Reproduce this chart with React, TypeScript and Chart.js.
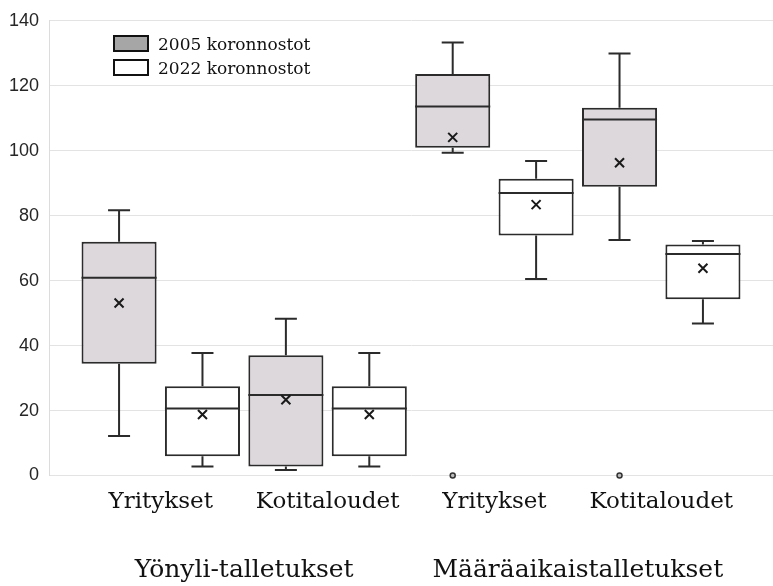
import { useEffect, useRef } from 'react';
import { Chart, registerables } from 'chart.js';

Chart.register(...registerables);

// ---- data ----
const groupLabels = ['Yönyli-talletukset', 'Määräaikaistalletukset'];
const groupPositions = [1.5, 3.5];
const categoryLabels = ['Yritykset', 'Kotitaloudet', 'Yritykset', 'Kotitaloudet'];
const categoryPositions = [1, 2, 3, 4];
const seriesNames = ['2005 koronnostot', '2022 koronnostot'];
const yTickValues = [0, 20, 40, 60, 80, 100, 120, 140];

// 2005 koronnostot
const min2005 = [12.2, 1.7, 99.4, 72.5];
const q1_2005 = [34.4, 2.8, 100.9, 88.9];
const median2005 = [60.9, 24.8, 113.6, 109.6];
const q3_2005 = [72.0, 37.0, 123.6, 113.2];
const max2005 = [81.7, 48.3, 133.3, 129.9];
const mean2005 = [53.1, 23.3, 104.1, 96.3];
const outliers2005: number[][] = [[], [], [0], [0]];

// 2022 koronnostot
const min2022 = [2.8, 2.8, 60.5, 46.8];
const q1_2022 = [5.9, 5.9, 73.9, 54.3];
const median2022 = [20.6, 20.6, 87.0, 68.2];
const q3_2022 = [27.5, 27.5, 91.4, 71.1];
const max2022 = [37.7, 37.7, 96.8, 72.2];
const mean2022 = [18.8, 18.8, 83.4, 63.8];
const outliers2022: number[][] = [[], [], [], []];

const stats = [
  { min: min2005, q1: q1_2005, median: median2005, q3: q3_2005, max: max2005, mean: mean2005, outliers: outliers2005 },
  { min: min2022, q1: q1_2022, median: median2022, q3: q3_2022, max: max2022, mean: mean2022, outliers: outliers2022 },
];

const LINE = '#2b2b2b';

const boxplotPlugin = {
  id: 'boxplotExtras',
  afterDatasetsDraw(chart: any) {
    const ctx = chart.ctx;
    const yScale = chart.scales.y;
    stats.forEach((s, di) => {
      const meta = chart.getDatasetMeta(di);
      meta.data.forEach((bar: any, j: number) => {
        const { x, width } = bar.getProps(['x', 'width'], true);
        const yMin = yScale.getPixelForValue(s.min[j]);
        const yQ1 = yScale.getPixelForValue(s.q1[j]);
        const yMed = yScale.getPixelForValue(s.median[j]);
        const yQ3 = yScale.getPixelForValue(s.q3[j]);
        const yMax = yScale.getPixelForValue(s.max[j]);
        const yMean = yScale.getPixelForValue(s.mean[j]);
        const cap = 11;
        ctx.save();
        ctx.strokeStyle = LINE;
        ctx.lineWidth = 2;
        ctx.beginPath();
        ctx.moveTo(x, yQ3);
        ctx.lineTo(x, yMax);
        ctx.moveTo(x - cap, yMax);
        ctx.lineTo(x + cap, yMax);
        ctx.moveTo(x, yQ1);
        ctx.lineTo(x, yMin);
        ctx.moveTo(x - cap, yMin);
        ctx.lineTo(x + cap, yMin);
        ctx.moveTo(x - width / 2, yMed);
        ctx.lineTo(x + width / 2, yMed);
        ctx.stroke();
        const m = 4.5;
        ctx.strokeStyle = '#1a1a1a';
        ctx.beginPath();
        ctx.moveTo(x - m, yMean - m);
        ctx.lineTo(x + m, yMean + m);
        ctx.moveTo(x + m, yMean - m);
        ctx.lineTo(x - m, yMean + m);
        ctx.stroke();
        s.outliers[j].forEach((v) => {
          const yo = yScale.getPixelForValue(v);
          ctx.beginPath();
          ctx.arc(x, yo, 2.5, 0, Math.PI * 2);
          ctx.fillStyle = '#bdbdbd';
          ctx.fill();
          ctx.lineWidth = 1.5;
          ctx.strokeStyle = '#333';
          ctx.stroke();
        });
        ctx.restore();
      });
    });
  },
};

export default function App() {
  const canvasRef = useRef<HTMLCanvasElement | null>(null);

  useEffect(() => {
    const canvas = canvasRef.current;
    if (!canvas) return;
    const chart = new Chart(canvas, {
      type: 'bar',
      data: {
        datasets: [
          {
            label: seriesNames[0],
            data: categoryPositions.map((c, i) => ({ x: c, y: [q1_2005[i], q3_2005[i]] })) as any,
            backgroundColor: '#dcd8dc',
            borderColor: LINE,
            borderWidth: 2,
            borderSkipped: false,
          },
          {
            label: seriesNames[1],
            data: categoryPositions.map((c, i) => ({ x: c, y: [q1_2022[i], q3_2022[i]] })) as any,
            backgroundColor: '#ffffff',
            borderColor: LINE,
            borderWidth: 2,
            borderSkipped: false,
          },
        ],
      },
      options: {
        responsive: false,
        animation: false,
        events: [],
        layout: { padding: { top: 20, right: 0, left: 0, bottom: 0 } },
        datasets: { bar: { categoryPercentage: 1, barPercentage: 0.9 } },
        plugins: { legend: { display: false }, tooltip: { enabled: false } },
        scales: {
          x: {
            type: 'linear',
            position: 'bottom',
            weight: 0,
            offset: false,
            min: 0.33,
            max: 4.67,
            grid: { display: false, drawTicks: false, offset: false },
            border: { display: false },
            afterBuildTicks: (scale: any) => {
              scale.ticks = categoryPositions.map((v) => ({ value: v }));
            },
            afterFit: (scale: any) => {
              scale.height = 50;
            },
            ticks: {
              autoSkip: false,
              maxRotation: 0,
              padding: 12.5,
              color: '#111',
              font: { family: 'DejaVu Serif', size: 23 },
              callback: (v: any) => categoryLabels[categoryPositions.indexOf(Number(v))] ?? '',
            },
          },
          x2: {
            type: 'linear',
            position: 'bottom',
            weight: 1,
            offset: false,
            min: 0.33,
            max: 4.67,
            grid: { display: false, drawTicks: false, offset: false },
            border: { display: false },
            afterBuildTicks: (scale: any) => {
              scale.ticks = groupPositions.map((v) => ({ value: v }));
            },
            afterFit: (scale: any) => {
              scale.height = 60.5;
            },
            ticks: {
              autoSkip: false,
              maxRotation: 0,
              padding: 30,
              color: '#111',
              font: { family: 'DejaVu Serif', size: 25 },
              callback: (v: any) => groupLabels[groupPositions.indexOf(Number(v))] ?? '',
            },
          },
          y: {
            type: 'linear',
            position: 'left',
            min: 0,
            max: 140,
            afterBuildTicks: (scale: any) => {
              scale.ticks = yTickValues.map((v) => ({ value: v }));
            },
            afterFit: (scale: any) => {
              scale.width = 49;
            },
            grid: { color: '#e3e3e3', lineWidth: 1, drawTicks: false },
            border: { display: true, color: '#dcdcdc', width: 1 },
            ticks: {
              padding: 10,
              color: '#262626',
              font: { family: 'Liberation Sans', size: 18 },
            },
          },
        },
      } as any,
      plugins: [boxplotPlugin],
    });
    return () => chart.destroy();
  }, []);

  const legendBox = (fill: string, top: number) => ({
    position: 'absolute' as const,
    left: 113,
    top,
    width: 36,
    height: 17,
    boxSizing: 'border-box' as const,
    border: '2px solid #111',
    background: fill,
  });
  const legendText = (top: number) => ({
    position: 'absolute' as const,
    left: 158,
    top,
    fontFamily: 'DejaVu Serif',
    fontSize: 17,
    lineHeight: '20px',
    color: '#111',
    whiteSpace: 'nowrap' as const,
  });

  return (
    <div style={{ position: 'absolute', left: 0, top: 0, width: 773, height: 586, background: '#fff' }}>
      <canvas ref={canvasRef} width={773} height={586} style={{ display: 'block' }} />
      <div style={legendBox('#a6a6a6', 35)} />
      <div style={legendText(34)}>{seriesNames[0]}</div>
      <div style={legendBox('#ffffff', 59)} />
      <div style={legendText(58)}>{seriesNames[1]}</div>
    </div>
  );
}
